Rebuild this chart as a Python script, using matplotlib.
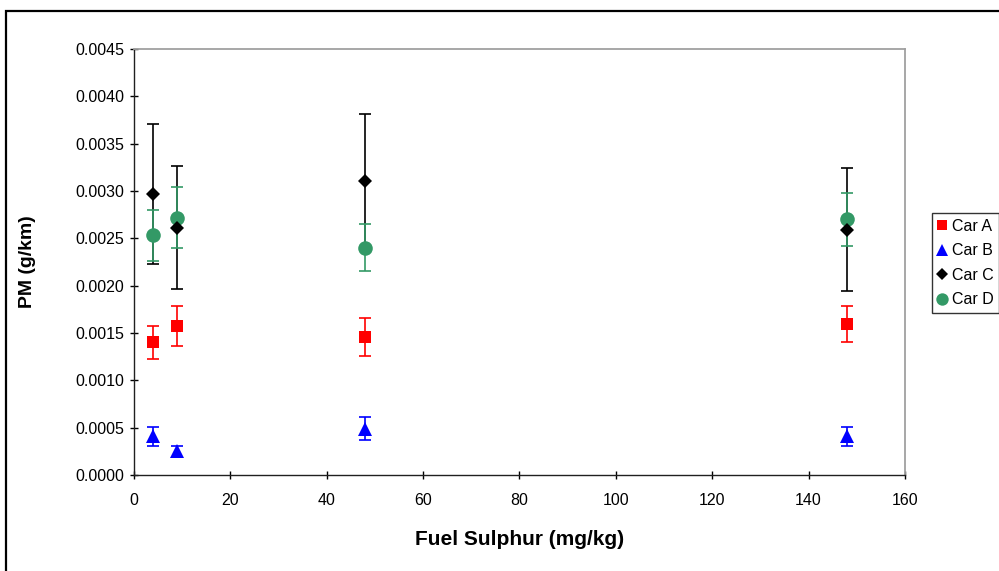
import numpy as np
import matplotlib
matplotlib.use("Agg")
import matplotlib.pyplot as plt
from matplotlib.patches import Rectangle

plt.rcParams['font.family'] = ['Liberation Sans', 'DejaVu Sans']

# fuel sulphur levels (mg/kg)
sulphur = [4, 9, 48, 148]

# PM results (g/km) and error bar half-widths
car_a = [0.00140, 0.00157, 0.00146, 0.00159]
car_a_err = [0.00017, 0.00021, 0.00020, 0.00019]
car_b = [0.00041, 0.00025, 0.00049, 0.00041]
car_b_err = [0.00010, 0.00006, 0.00012, 0.00010]
car_c = [0.00297, 0.00261, 0.00311, 0.00259]
car_c_err = [0.00074, 0.00065, 0.00070, 0.00065]
car_d = [0.00253, 0.00272, 0.00240, 0.00270]
car_d_err = [0.00027, 0.00032, 0.00025, 0.00028]

names = ['Car A', 'Car B', 'Car C', 'Car D']
colors = ['#ff0000', '#0000ff', '#000000', '#339966']
markers = ['s', '^', 'D', 'o']
sizes = [9, 9.5, 7.5, 10.5]
# diamonds sit over the circles in the original
marker_z = [4, 4, 6, 5]

fig = plt.figure(figsize=(9.99, 5.71), dpi=100)
ax = fig.add_axes([0.1341, 0.1681, 0.9059 - 0.1341, 0.9142 - 0.1681])

# outer chart frame (cut off at right and bottom)
fig.patches.append(Rectangle((6 / 999, -0.2), 1.2, 0.2 + (1 - 11 / 571),
                             transform=fig.transFigure, fill=False,
                             edgecolor='black', linewidth=1.6))

series = [(car_a, car_a_err), (car_b, car_b_err), (car_c, car_c_err), (car_d, car_d_err)]
for (vals, errs), name, c, m, s, z in zip(series, names, colors, markers, sizes, marker_z):
    ax.errorbar(sulphur, vals, yerr=errs, fmt='none', ecolor=c,
                elinewidth=1.2, capsize=4.5, capthick=1.2, zorder=2)
    ax.plot(sulphur, vals, linestyle='none', marker=m, color=c,
            markersize=s, markeredgewidth=0, label=name, zorder=z)

ax.set_xlim(0, 160)
ax.set_ylim(0, 0.0045)
ax.set_xticks(np.arange(0, 161, 20))
ax.set_yticks(np.arange(0, 0.00451, 0.0005))
ax.yaxis.set_major_formatter(matplotlib.ticker.FormatStrFormatter('%.4f'))
ax.tick_params(direction='inout', length=6, width=1, labelsize=11.5, pad=4)
ax.tick_params(axis='x', pad=10)

for side in ['top', 'right']:
    ax.spines[side].set_color('#a0a0a0')
    ax.spines[side].set_linewidth(1.3)
for side in ['left', 'bottom']:
    ax.spines[side].set_color('#202020')
    ax.spines[side].set_linewidth(1.0)

ax.set_xlabel('Fuel Sulphur (mg/kg)', fontsize=15, fontweight='bold', labelpad=16)
ax.set_ylabel('PM (g/km)', fontsize=14, fontweight='bold', labelpad=28)

leg = fig.legend(loc='upper left', bbox_to_anchor=(932 / 999, 1 - 213 / 571),
                 fontsize=11.5, frameon=True, fancybox=False, handlelength=0.6,
                 handletextpad=0.3, borderpad=0.35, labelspacing=0.6,
                 borderaxespad=0, markerscale=0.85)
leg.get_frame().set_edgecolor('black')
leg.get_frame().set_linewidth(1.0)

fig.savefig('out.png', dpi=100)
